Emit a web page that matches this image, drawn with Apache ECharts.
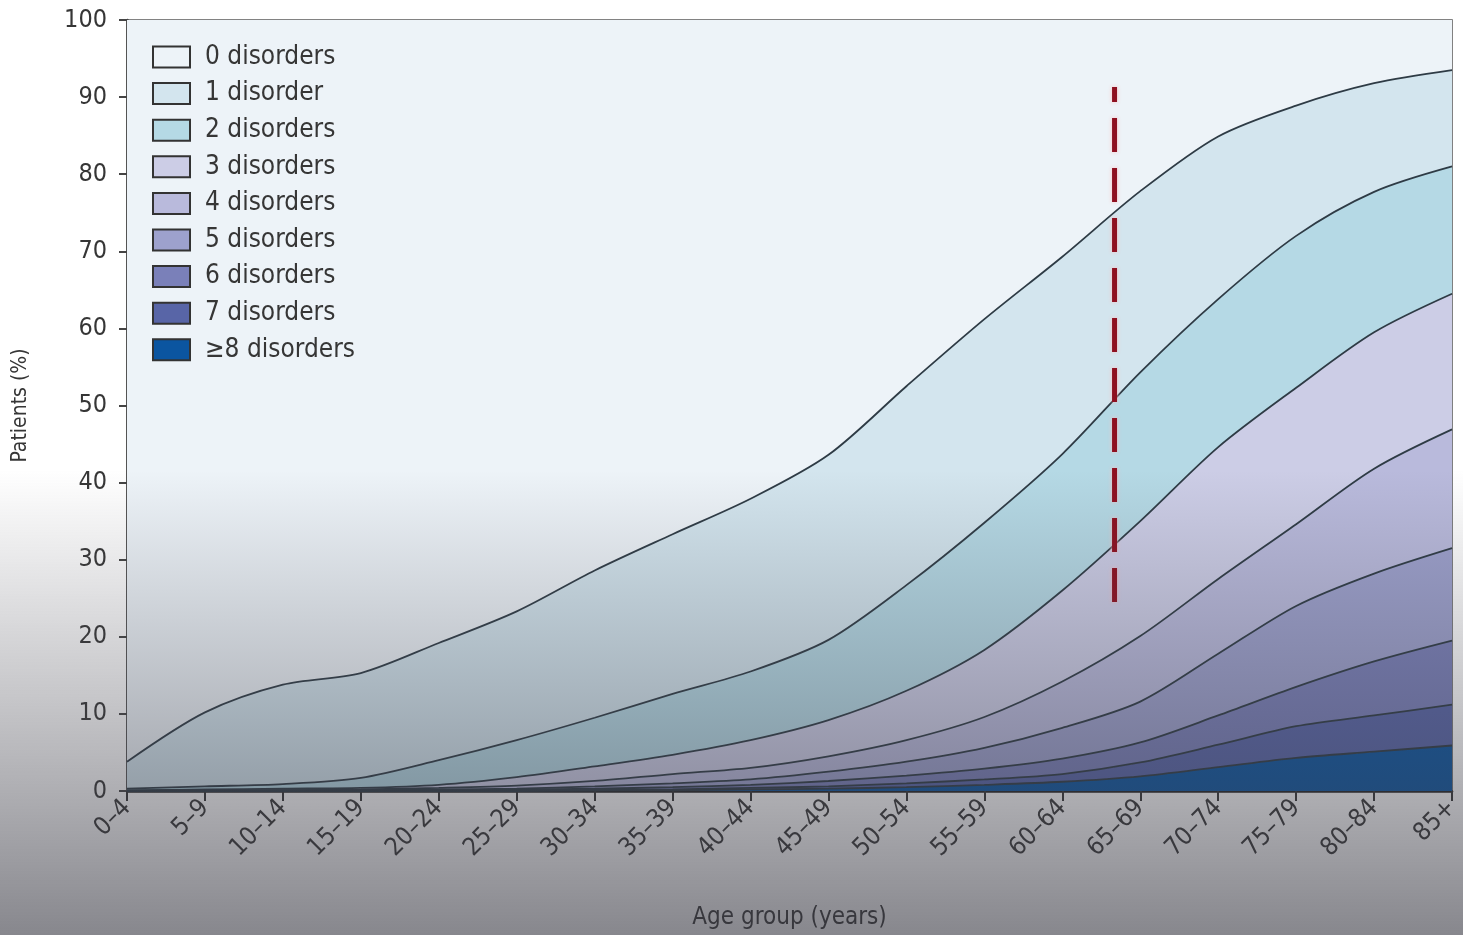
<!DOCTYPE html>
<html>
<head>
<meta charset="utf-8">
<title>Patients by number of disorders and age group</title>
<script src="https://cdn.jsdelivr.net/npm/echarts@6/dist/echarts.min.js"></script>
<style>
  html, body { margin: 0; padding: 0; background: #fff; }
  #chart { width: 1463px; height: 935px; }
</style>
</head>
<body>
<div id="chart"></div>
<script>
// age groups on the x axis
const ageGroups = ['0–4', '5–9', '10–14', '15–19', '20–24', '25–29', '30–34', '35–39', '40–44',
  '45–49', '50–54', '55–59', '60–64', '65–69', '70–74', '75–79', '80–84', '85+']

// share of patients (%) in each band (bands stack to 100)
const disorders8plus = [0, 0, 0, 0, 0, 0, 0.1, 0.1, 0.2, 0.3, 0.5, 0.8, 1.2, 1.9, 3.1, 4.3, 5.1, 5.9]
const disorders7 = [0, 0, 0, 0, 0, 0.1, 0, 0.1, 0.2, 0.3, 0.5, 0.7, 1.0, 1.8, 2.9, 4.1, 4.7, 5.3]
const disorders6 = [0, 0, 0, 0, 0.1, 0.1, 0.2, 0.3, 0.4, 0.7, 1.0, 1.4, 2.0, 2.6, 3.8, 5.1, 7.0, 8.3]
const disorders5 = [0, 0, 0.1, 0.1, 0.1, 0.1, 0.3, 0.5, 0.7, 1.2, 1.8, 2.7, 4.0, 5.3, 8.0, 10.5, 11.4, 12.0]
const disorders4 = [0, 0.1, 0, 0.1, 0.2, 0.4, 0.7, 1.2, 1.5, 2.0, 2.8, 4.0, 6.0, 8.5, 9.7, 10.6, 13.6, 15.4]
const disorders3 = [0.1, 0.1, 0.2, 0.2, 0.4, 1.1, 1.9, 2.5, 3.6, 4.7, 6.4, 8.7, 11.8, 14.9, 17.1, 17.7, 17.7, 17.6]
const disorders2 = [0.2, 0.4, 0.6, 1.3, 3.2, 4.8, 6.3, 7.9, 8.9, 10.4, 13.7, 16.5, 17.7, 19.3, 19.2, 19.7, 18.2, 16.5]
const disorders1 = [3.5, 9.6, 12.9, 13.6, 15.2, 16.7, 19.1, 20.7, 22.4, 24.0, 25.8, 26.4, 25.6, 23.5, 21.1, 16.9, 14.1, 12.5]
const disorders0 = [96.2, 89.8, 86.2, 84.7, 80.8, 76.7, 71.4, 66.7, 62.1, 56.4, 47.5, 38.8, 30.7, 22.2, 15.1, 11.1, 8.2, 6.5]

const yTicks = [0, 10, 20, 30, 40, 50, 60, 70, 80, 90, 100]

// red dashed marker: position in age-group index units, span in %
const markerPos = 12.67
const markerSpan = [24.5, 91.3]

const bands = [
  { name: '≥8 disorders', data: disorders8plus, color: '#0b55a0' },
  { name: '7 disorders', data: disorders7, color: '#5865a7' },
  { name: '6 disorders', data: disorders6, color: '#7a80b9' },
  { name: '5 disorders', data: disorders5, color: '#9da1cd' },
  { name: '4 disorders', data: disorders4, color: '#b9badc' },
  { name: '3 disorders', data: disorders3, color: '#cccde6' },
  { name: '2 disorders', data: disorders2, color: '#b5d9e5' },
  { name: '1 disorder', data: disorders1, color: '#d3e5ee' },
  { name: '0 disorders', data: disorders0, color: '#edf3f8' },
]

const font = "'DejaVu Sans Condensed', 'Liberation Sans', sans-serif"
const textColor = '#363636'

const chart = echarts.init(document.getElementById('chart'))

const series = bands.map((b) => ({
  name: b.name,
  type: 'line',
  stack: 'total',
  data: b.data,
  smooth: 0.3,
  symbol: 'none',
  lineStyle: { width: b.name === '0 disorders' ? 0 : 1.8, color: '#2e3b45' },
  itemStyle: { color: b.color },
  areaStyle: { color: b.color, opacity: 1 },
  z: 2,
}))

series.push({
  name: 'marker',
  type: 'line',
  xAxisIndex: 1,
  data: [[markerPos, markerSpan[0]], [markerPos, markerSpan[1]]],
  symbol: 'none',
  lineStyle: {
    color: '#8e1020',
    width: 5,
    type: [34, 16],
    shadowColor: 'rgba(255,190,190,0.9)',
    shadowBlur: 4,
  },
  z: 5,
})

chart.setOption({
  animation: false,
  textStyle: { fontFamily: font },
  grid: { left: 127, right: 8, top: 20, bottom: 133, show: true, borderColor: '#5a5a5a', borderWidth: 1.5 },
  legend: {
    data: bands.map((b) => b.name).reverse(),
    orient: 'vertical',
    left: 152,
    top: 44,
    padding: 0,
    icon: 'rect',
    itemWidth: 37,
    itemHeight: 21,
    itemGap: 10.6,
    itemStyle: { borderColor: '#333', borderWidth: 2 },
    textStyle: { fontSize: 26, lineHeight: 26, color: textColor, fontFamily: font, padding: [0, 0, 0, 10] },
  },
  xAxis: [
    {
      type: 'category',
      data: ageGroups,
      boundaryGap: false,
      name: 'Age group (years)',
      nameLocation: 'middle',
      nameGap: 115,
      nameTextStyle: { fontSize: 24, color: textColor },
      axisLine: { lineStyle: { color: '#222', width: 2.5 } },
      axisTick: { length: 10, lineStyle: { color: '#333', width: 2 } },
      axisLabel: { rotate: 45, fontSize: 25, color: textColor, margin: 13 },
      splitLine: { show: false },
    },
    {
      type: 'value',
      min: 0,
      max: ageGroups.length - 1,
      show: false,
    },
  ],
  yAxis: {
    type: 'value',
    min: yTicks[0],
    max: yTicks[yTicks.length - 1],
    interval: 10,
    name: 'Patients (%)',
    nameLocation: 'middle',
    nameGap: 96,
    nameTextStyle: { fontSize: 21, color: textColor },
    axisLine: { show: true, lineStyle: { color: '#444', width: 2.5 } },
    axisTick: { show: true, length: 8, lineStyle: { color: '#444', width: 2 } },
    axisLabel: { fontSize: 25, color: textColor, margin: 20 },
    splitLine: { show: false },
  },
  series,
  graphic: [
    {
      type: 'rect',
      silent: true,
      z: 100,
      shape: { x: 0, y: 470, width: 1463, height: 465 },
      style: {
        fill: new echarts.graphic.LinearGradient(0, 0, 0, 1, [
          { offset: 0, color: 'rgba(70,70,80,0)' },
          { offset: 0.35, color: 'rgba(70,70,80,0.22)' },
          { offset: 1, color: 'rgba(55,55,65,0.6)' },
        ]),
      },
    },
  ],
})
</script>
</body>
</html>
